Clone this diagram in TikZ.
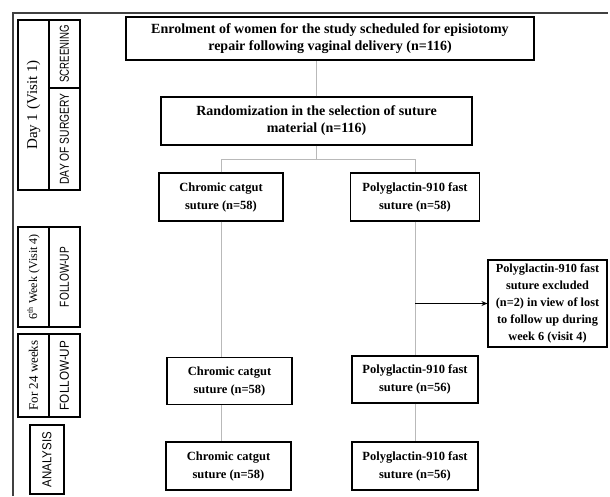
\documentclass[tikz,border=0pt]{standalone}
\usepackage{fontspec}
\setmainfont{Liberation Serif}
\setsansfont{Liberation Sans}
\usetikzlibrary{arrows.meta,calc}
\newcommand{\sqz}[2]{\scalebox{#1}[1]{#2}}
\begin{document}
\begin{tikzpicture}[x=1pt,y=-1pt,
  mainbox/.style={draw=black,line width=1.1pt,align=center,inner sep=2pt,
    font=\fontsize{12.5}{18}\selectfont\bfseries},
  topbox/.style={mainbox,font=\fontsize{14}{17}\selectfont\bfseries},
  sidebox/.style={draw=black,line width=1.1pt,inner sep=1pt,rotate=90},
  sidesans/.style={font=\sffamily\fontsize{13}{14}\selectfont},
  conn/.style={draw=gray!55,line width=0.9pt},
  frame/.style={draw=black!75,line width=1.3pt}]
\useasboundingbox (0,0) rectangle (610,496);
\fill[white] (0,0) rectangle (610,496);
% outer frame
\coordinate (fa) at (13,496);
\coordinate (fb) at (13,13);
\coordinate (fc) at (608,13);
\draw[frame] (fa) -- (fb) -- (fc);
% side column
\node[sidebox,font=\fontsize{15}{16}\selectfont,minimum width=170,minimum height=31] (day1) at (33.5,105) {Day 1 (Visit 1)};
\node[sidebox,sidesans,minimum width=68,minimum height=31] (scr) at (64.5,54) {\sqz{0.74}{SCREENING}};
\node[sidebox,sidesans,minimum width=102,minimum height=31] (surg) at (64.5,139) {\sqz{0.79}{DAY OF SURGERY}};
\node[sidebox,font=\fontsize{12}{13}\selectfont,minimum width=100,minimum height=31] (wk6) at (33.5,277) {6\textsuperscript{th} Week (Visit 4)};
\node[sidebox,sidesans,minimum width=100,minimum height=31] (fu1) at (64.5,277) {\sqz{0.78}{FOLLOW-UP}};
\node[sidebox,font=\fontsize{13}{14}\selectfont,minimum width=83,minimum height=31] (w24) at (33.5,375.5) {For 24 weeks};
\node[sidebox,sidesans,minimum width=83,minimum height=31] (fu2) at (64.5,375.5) {\sqz{0.9}{FOLLOW-UP}};
\node[sidebox,sidesans,minimum width=69,minimum height=34] (anal) at (47,459.5) {\sqz{0.88}{ANALYSIS}};
% main flow
\node[topbox,minimum width=408,minimum height=43] (enrol) at (330,38.5)
  {Enrolment of women for the study scheduled for episiotomy\\repair following vaginal delivery (n=116)};
\node[topbox,minimum width=311,minimum height=48] (rand) at (316.5,121)
  {Randomization in the selection of suture\\material (n=116)};
\node[mainbox,minimum width=124,minimum height=48] (c1) at (221,197) {Chromic catgut\\suture (n=58)};
\node[mainbox,minimum width=129,minimum height=48] (p1) at (415,197) {Polyglactin-910 fast\\suture (n=58)};
\node[mainbox,minimum width=125,minimum height=47] (c2) at (229.5,381) {Chromic catgut\\suture (n=58)};
\node[mainbox,minimum width=126,minimum height=47] (p2) at (415,379.5) {Polyglactin-910 fast\\suture (n=56)};
\node[mainbox,minimum width=125,minimum height=48] (c3) at (228.5,466) {Chromic catgut\\suture (n=58)};
\node[mainbox,minimum width=126,minimum height=48] (p3) at (415,466) {Polyglactin-910 fast\\suture (n=56)};
\node[mainbox,minimum width=119,minimum height=87,inner sep=1pt,font=\fontsize{12.3}{17}\selectfont\bfseries] (excl) at (547.5,303.5)
  {Polyglactin-910 fast\\suture excluded\\(n=2) in view of lost\\to follow up during\\week 6 (visit 4)};
% connectors
\draw[conn] (rand.north) -- (rand.north |- enrol.south);
\coordinate (split) at ($(rand.south)+(0,14)$);
\draw[conn] (rand.south) -- (split);
\draw[conn] (c1.north) |- (split) -| (p1.north);
\draw[conn] (c1.south) -- (c1.south |- c2.north);
\draw[conn] (p1.south) -- (p1.south |- p2.north);
\draw[conn] (c1.south |- c2.south) -- (c1.south |- c3.north);
\draw[conn] (p2.south) -- (p3.north);
\draw[line width=1pt,-{Stealth[length=6pt,width=5pt]}] (p1.south |- excl.west) -- (excl.west);
\end{tikzpicture}
\end{document}
